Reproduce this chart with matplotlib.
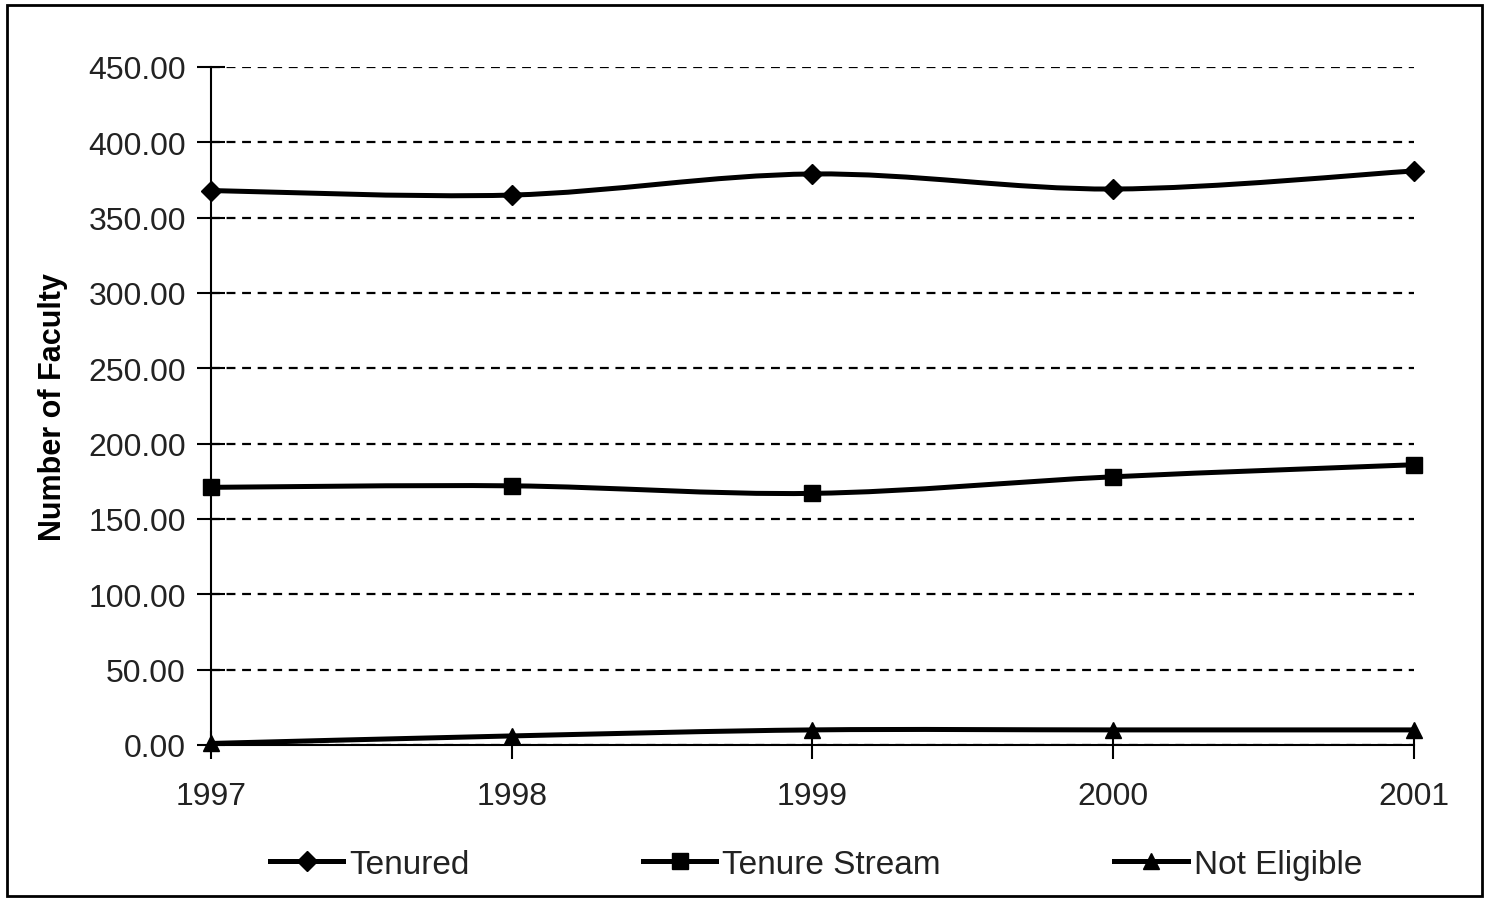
import numpy as np
import matplotlib.pyplot as plt
from matplotlib.path import Path
from matplotlib.patches import PathPatch, Rectangle
from matplotlib.lines import Line2D
from matplotlib.ticker import FormatStrFormatter

plt.rcParams['font.family'] = ['Liberation Sans', 'DejaVu Sans']

years = [1997, 1998, 1999, 2000, 2001]
tenured = [368, 365, 379, 369, 381]
tenure_stream = [171, 172, 167, 178, 186]
not_eligible = [1, 6, 10, 10, 10]

series = [("Tenured", tenured, 'D', 10),
          ("Tenure Stream", tenure_stream, 's', 11),
          ("Not Eligible", not_eligible, '^', 11)]


def smooth_path(x, y):
    # Catmull-Rom style bezier segments, like Excel's smoothed lines
    pts = np.column_stack([x, y]).astype(float)
    p = np.vstack([pts[0], pts, pts[-1]])
    verts = [pts[0]]
    codes = [Path.MOVETO]
    for i in range(1, len(p) - 2):
        c1 = p[i] + (p[i + 1] - p[i - 1]) / 6
        c2 = p[i + 1] - (p[i + 2] - p[i]) / 6
        verts += [c1, c2, p[i + 1]]
        codes += [Path.CURVE4] * 3
    return Path(verts, codes)


fig = plt.figure(figsize=(14.89, 9.03), dpi=100)
fig.patches.append(Rectangle((0.005, 0.007), 0.99, 0.986, transform=fig.transFigure,
                             fill=False, edgecolor='black', linewidth=2))
ax = fig.add_axes([0.1417, 0.1739, 0.8079, 0.7508])

handles = []
for name, vals, mk, ms in series:
    ax.add_patch(PathPatch(smooth_path(years, vals), fill=False, edgecolor='black',
                           linewidth=3.6, clip_on=False, zorder=3))
    ax.plot(years, vals, linestyle='none', marker=mk, markersize=ms, color='black',
            clip_on=False, zorder=4)
    handles.append(Line2D([], [], color='black', linewidth=3.6, marker=mk, markersize=ms))

ax.set_xlim(1997, 2001)
ax.set_ylim(0, 450)
ax.set_xticks(years)
ax.set_yticks(np.arange(0, 451, 50))
ax.yaxis.set_major_formatter(FormatStrFormatter('%.2f'))
ax.grid(axis='y', linestyle=(0, (4, 3)), color='black', linewidth=1.6)
ax.set_axisbelow(True)
for s in ['top', 'right']:
    ax.spines[s].set_visible(False)
for s in ['left', 'bottom']:
    ax.spines[s].set_linewidth(1.5)
ax.tick_params(direction='inout', length=20, width=1.5, labelsize=23, labelcolor='#222222')
ax.tick_params(axis='x', pad=16)
ax.tick_params(axis='y', pad=8)
ax.set_ylabel('Number of Faculty', fontsize=22, fontweight='bold', labelpad=15)

fig.legend(handles, [s[0] for s in series], loc='center', bbox_to_anchor=(0.548, 0.042),
           ncol=3, frameon=False, fontsize=24, handlelength=2.2, handletextpad=0.18,
           columnspacing=5.2, labelcolor='#222222')

fig.savefig('out.png', dpi=100)
